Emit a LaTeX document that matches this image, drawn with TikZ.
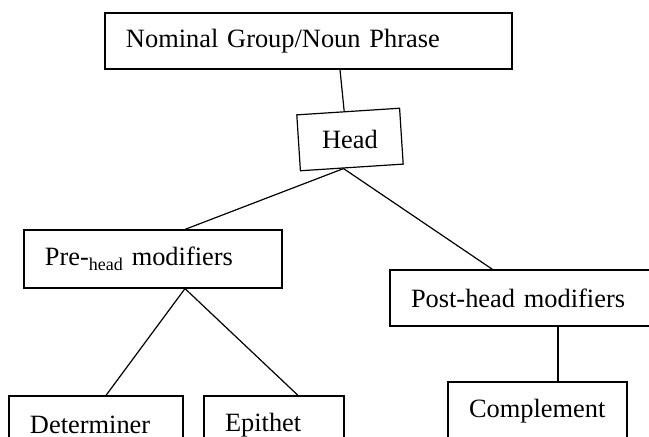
\documentclass[tikz,border=0pt]{standalone}
\usepackage{fontspec}
\setmainfont{Liberation Serif}
\usetikzlibrary{calc}

\newcommand{\subhead}{{\fontsize{9}{10}\selectfont\raisebox{-2.2pt}{head}}}

\begin{document}
\begin{tikzpicture}[x=0.5pt, y=-0.5pt]
  \tikzset{element/.style = {draw=black, line width=0.6pt, inner xsep=10.5pt, inner ysep=0pt, align=left, minimum height=28pt, font=\fontsize{13.2}{15}\selectfont}};
  \tikzset{branch/.style = {draw, line width=0.6pt}};

  \useasboundingbox (0,0) rectangle (649,437);
  \clip (0,0) rectangle (649,437);

  \node[element, text width=182.5pt]           (np)   at (308.5, 41)  {Nominal Group/Noun Phrase};
  \node[element, align=center, inner xsep=0pt, minimum width=51.5pt, rotate=3.7] (head) at (350, 139.5) {\rotatebox{-3.7}{Head}};
  \node[element, text width=108pt, minimum height=29pt] (pre) at (153, 259) {Pre-\subhead{} modifiers};
  \node[element, text width=116.5pt]           (post) at (527.5, 298) {Post-head modifiers};
  %
  \node[element, text width=66pt, minimum height=29pt]   (det)  at (96, 425)    {Determiner};
  \node[element, text width=49pt, minimum height=29pt]   (epi)  at (274, 425)   {Epithet};
  \node[element, text width=68.5pt, minimum height=29pt] (comp) at (537.5, 411) {Complement};

  \begin{scope}[every path/.style={branch}]
    \draw ($(np.south)+(31.5,0)$) to ($(head.north)+(-4,0)$);
    \draw ($(head.south west)!0.42!(head.south east)$) coordinate (hb) to ($(pre.north)+(32,0)$);
    \draw (hb) to ($(post.north)+(-35,0)$);
    \draw ($(pre.south)+(32,0)$) coordinate (pb) to ($(det.north)+(10,0)$);
    \draw (pb) to ($(epi.north)+(24,0)$);
    \draw ($(post.south)+(30.5,0)$) to ($(comp.north)+(20.5,0)$);
  \end{scope}
\end{tikzpicture}
\end{document}
